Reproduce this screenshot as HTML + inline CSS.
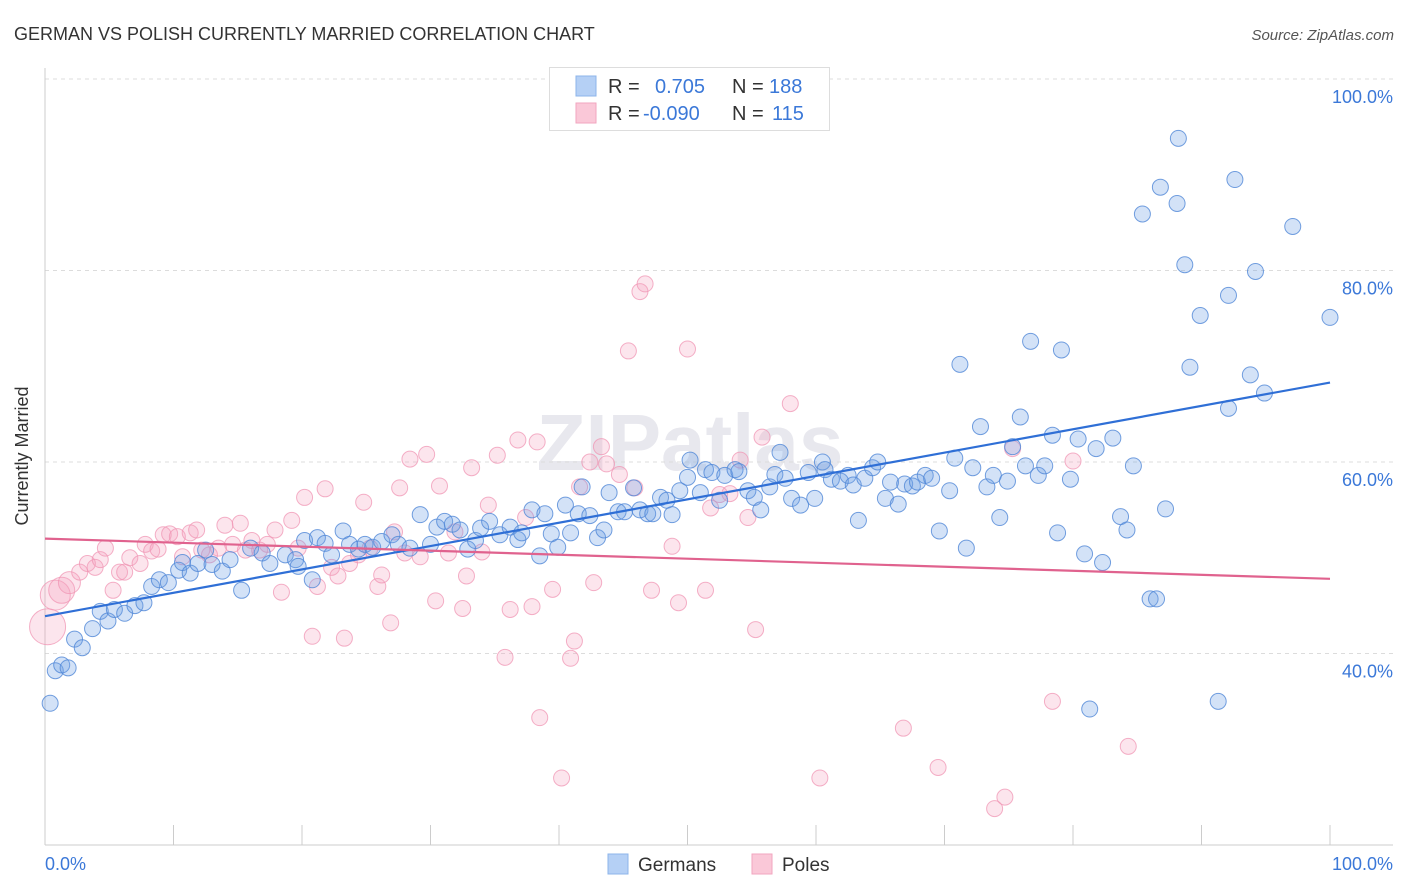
<!DOCTYPE html>
<html><head><meta charset="utf-8">
<style>
body{margin:0;background:#fff;font-family:"Liberation Sans",sans-serif;}
svg{display:block}
</style></head><body>
<svg id="chart" width="1406" height="892" xmlns="http://www.w3.org/2000/svg">
<text x="14" y="40" font-size="18" fill="#333">GERMAN VS POLISH CURRENTLY MARRIED CORRELATION CHART</text>
<text x="1394" y="40" font-size="15" fill="#555" font-style="italic" text-anchor="end">Source: ZipAtlas.com</text>
<text x="28" y="456" font-size="18" fill="#333" text-anchor="middle" transform="rotate(-90 28 456)">Currently Married</text>
<text x="690" y="470" font-size="80" fill="#e8e8ee" text-anchor="middle" font-weight="bold">ZIPatlas</text>
<g id="grid"></g>
<g id="marks"></g>
<g id="lines"></g>
<g>
<rect x="549.5" y="67.5" width="280" height="63" fill="#fff" stroke="#ddd"/>
<rect x="576" y="76" width="20" height="20" fill="#b5d0f5" stroke="#8db4ea"/>
<text x="608" y="93" font-size="20" fill="#333">R =</text>
<text x="655" y="93" font-size="20" fill="#3b78d8">0.705</text>
<text x="732" y="93" font-size="20" fill="#333">N =</text>
<text x="769" y="93" font-size="20" fill="#3b78d8">188</text>
<rect x="576" y="103" width="20" height="20" fill="#fac8d8" stroke="#f2a6bf"/>
<text x="608" y="120" font-size="20" fill="#333">R =</text>
<text x="643" y="120" font-size="20" fill="#3b78d8">-0.090</text>
<text x="732" y="120" font-size="20" fill="#333">N =</text>
<text x="772" y="120" font-size="20" fill="#3b78d8">115</text>
</g>
<g>
<rect x="608" y="854" width="20" height="20" fill="#b5d0f5" stroke="#8db4ea"/>
<text x="638" y="871" font-size="19" fill="#333">Germans</text>
<rect x="752" y="854" width="20" height="20" fill="#fac8d8" stroke="#f2a6bf"/>
<text x="782" y="871" font-size="19" fill="#333">Poles</text>
</g>
</svg>
<script>
const germansX=[0.4,0.8,1.3,1.8,2.3,2.9,3.7,4.3,4.9,5.4,6.2,7.0,7.7,8.3,8.9,9.6,10.4,10.7,11.3,11.9,12.5,13.0,13.8,14.4,15.3,16.0,16.9,17.5,18.7,19.5,19.7,20.2,20.8,21.2,21.8,22.3,23.2,23.7,24.4,24.9,25.5,26.2,27.0,27.5,28.4,29.2,30.0,30.5,31.1,31.7,32.3,32.9,33.5,33.9,34.6,35.4,36.2,36.8,37.1,37.9,38.5,38.9,39.4,39.9,40.5,40.9,41.5,41.8,42.4,43.0,43.5,43.9,44.6,45.1,45.8,46.3,46.9,47.3,47.9,48.4,48.8,49.4,50.0,50.2,51.0,51.4,51.9,52.5,52.9,53.7,54.0,54.7,55.2,55.7,56.4,56.8,57.2,57.6,58.1,58.8,59.4,59.9,60.5,60.7,61.2,61.9,62.5,62.9,63.3,63.8,64.4,64.8,65.4,65.8,66.4,66.9,67.5,67.9,68.5,69.0,69.6,70.4,70.8,71.2,71.7,72.2,72.8,73.3,73.8,74.3,74.9,75.3,75.9,76.3,76.7,77.3,77.8,78.4,78.8,79.1,79.8,80.4,80.9,81.3,81.8,82.3,83.1,83.7,84.2,84.7,85.4,86.0,86.5,86.8,87.2,88.1,88.2,88.7,89.1,89.9,91.3,92.1,92.1,92.6,93.8,94.2,94.9,97.1,100];
const germansY=[34.8,38.2,38.8,38.5,41.5,40.6,42.6,44.4,43.4,44.6,44.2,45.0,45.3,47.0,47.7,47.4,48.7,49.5,48.4,49.4,50.8,49.3,48.6,49.8,46.6,51.0,50.5,49.4,50.3,49.8,49.1,51.8,47.7,52.1,51.5,50.3,52.8,51.4,50.9,51.4,51.1,51.7,52.4,51.4,51.0,54.5,51.4,53.2,53.8,53.5,52.9,50.9,51.8,53.1,53.8,52.4,53.2,51.9,52.6,55.0,50.2,54.6,52.5,51.1,55.5,52.6,54.6,57.4,54.4,52.1,52.9,56.8,54.8,54.8,57.3,55.0,54.6,54.6,56.3,56.0,54.5,57.0,58.4,60.2,56.8,59.2,58.9,56.0,58.6,59.2,59.0,57.0,56.3,55.0,57.4,58.7,61.0,58.3,56.2,55.5,58.9,56.2,60.0,59.2,58.2,58.0,58.6,57.6,53.9,58.3,59.4,60.0,56.2,57.9,55.6,57.7,57.5,57.9,58.6,58.3,52.8,57.0,60.4,70.2,51.0,59.4,63.7,57.4,58.6,54.2,58.0,61.6,64.7,59.6,72.6,58.6,59.6,62.8,52.6,71.7,58.2,62.4,50.4,34.2,61.4,49.5,62.5,54.3,52.9,59.6,85.9,45.7,45.7,88.7,55.1,87.0,93.8,80.6,69.9,75.3,35.0,77.4,65.6,89.5,69.1,79.9,67.2,84.6,75.1];
const polesX=[0.2,0.8,1.3,1.9,2.7,3.3,3.9,4.3,4.7,5.3,5.8,6.2,6.6,7.4,7.8,8.3,8.8,9.2,9.7,10.3,10.7,11.3,11.8,12.2,12.8,13.5,14.0,14.6,15.2,15.6,16.1,16.7,17.3,17.9,18.4,19.2,19.7,20.2,20.8,21.2,21.8,22.3,22.8,23.3,23.7,24.4,24.8,25.3,25.9,26.2,26.9,27.2,27.6,28.0,28.4,29.2,29.7,30.4,30.7,31.4,31.9,32.5,32.8,33.2,34.0,34.5,35.2,35.8,36.2,36.8,37.4,37.9,38.3,38.5,39.5,40.2,40.9,41.2,41.6,42.4,42.7,43.3,43.7,44.7,45.4,45.9,46.3,46.7,47.2,48.8,49.3,50.0,51.4,51.8,52.5,53.3,54.1,54.7,55.3,55.8,58.0,60.3,66.8,69.5,73.9,74.7,75.3,78.4,80.0,84.3];
const polesY=[42.8,46.1,46.6,47.4,48.5,49.4,49.0,49.8,51.0,46.6,48.5,48.5,50.0,49.4,51.4,50.7,50.9,52.4,52.5,52.2,50.1,52.6,52.9,50.8,50.3,51.0,53.4,51.4,53.6,50.8,51.8,50.8,51.4,52.9,46.4,53.9,51.0,56.3,41.8,47.0,57.2,49.0,48.1,41.6,49.4,50.3,55.8,51.0,47.0,48.2,43.2,52.7,57.3,50.5,60.3,50.1,60.8,45.5,57.5,50.5,52.7,44.7,48.1,59.4,50.6,55.5,60.7,39.6,44.6,62.3,54.2,44.9,62.1,33.3,46.7,27.0,39.5,41.3,57.4,60.0,47.4,61.6,59.8,58.7,71.6,57.3,77.8,78.6,46.6,51.2,45.3,71.8,46.6,55.2,56.6,56.7,60.2,54.2,42.5,62.6,66.1,27.0,32.2,28.1,23.8,25.0,61.4,35.0,60.1,30.3];
const polesR=[18,15,13,11];
const germansTrend=[43.9,68.3];
const polesTrend=[52.0,47.8];
const yTicks=[40,60,80,100];
const yTickLabels=["40.0%","60.0%","80.0%","100.0%"];
const xTicks=[0,10,20,30,40,50,60,70,80,90,100];
const xEndLabels=["0.0%","100.0%"];

const NS="http://www.w3.org/2000/svg";
const X0=45,X1=1330,Y0=845,Y1=79;
function xs(v){return X0+(v/100)*(X1-X0);}
function ys(v){return Y0-((v-20)/80)*(Y0-Y1);}
function mk(tag,attrs,parent){const e=document.createElementNS(NS,tag);for(const k in attrs)e.setAttribute(k,attrs[k]);parent.appendChild(e);return e;}
const grid=document.getElementById('grid'),marks=document.getElementById('marks'),lines=document.getElementById('lines');
yTicks.forEach((t,i)=>{
  const l=mk('line',{x1:X0,x2:1393,y1:ys(t),y2:ys(t),stroke:'#dcdcdc','stroke-dasharray':'4,4'},grid);
  
  
  const tx=mk('text',{x:1393,y:ys(t)+24,'font-size':18,fill:'#3b78d8','text-anchor':'end'},grid);
  tx.textContent=yTickLabels[i];
  
  
});
const ax=mk('line',{x1:X0,x2:1393,y1:Y0,y2:Y0,stroke:'#ccc'},grid);


const ay=mk('line',{x1:X0,x2:X0,y1:68,y2:Y0,stroke:'#ccc'},grid);


xTicks.forEach(t=>{
  const l=mk('line',{x1:xs(t),x2:xs(t),y1:825,y2:Y0,stroke:'#ccc'},grid);
  
  
});
const xl0=mk('text',{x:X0,y:870,'font-size':18,fill:'#3b78d8'},grid);xl0.textContent=xEndLabels[0];


const xl1=mk('text',{x:1393,y:870,'font-size':18,fill:'#3b78d8','text-anchor':'end'},grid);xl1.textContent=xEndLabels[1];


polesX.forEach((v,i)=>{
  const c=mk('circle',{cx:xs(v),cy:ys(polesY[i]),r:polesR[i]||8,fill:'rgba(246,160,190,0.28)',stroke:'rgba(240,150,180,0.75)','stroke-width':1},marks);
  
  
});
germansX.forEach((v,i)=>{
  const c=mk('circle',{cx:xs(v),cy:ys(germansY[i]),r:8,fill:'rgba(110,160,230,0.3)',stroke:'rgba(80,135,215,0.8)','stroke-width':1},marks);
  
  
});
const tb=mk('line',{x1:xs(0),x2:xs(100),y1:ys(germansTrend[0]),y2:ys(germansTrend[1]),stroke:'#2f6fd6','stroke-width':2.2},lines);


const tp=mk('line',{x1:xs(0),x2:xs(100),y1:ys(polesTrend[0]),y2:ys(polesTrend[1]),stroke:'#e0628e','stroke-width':2.2},lines);


</script>
</body></html>
